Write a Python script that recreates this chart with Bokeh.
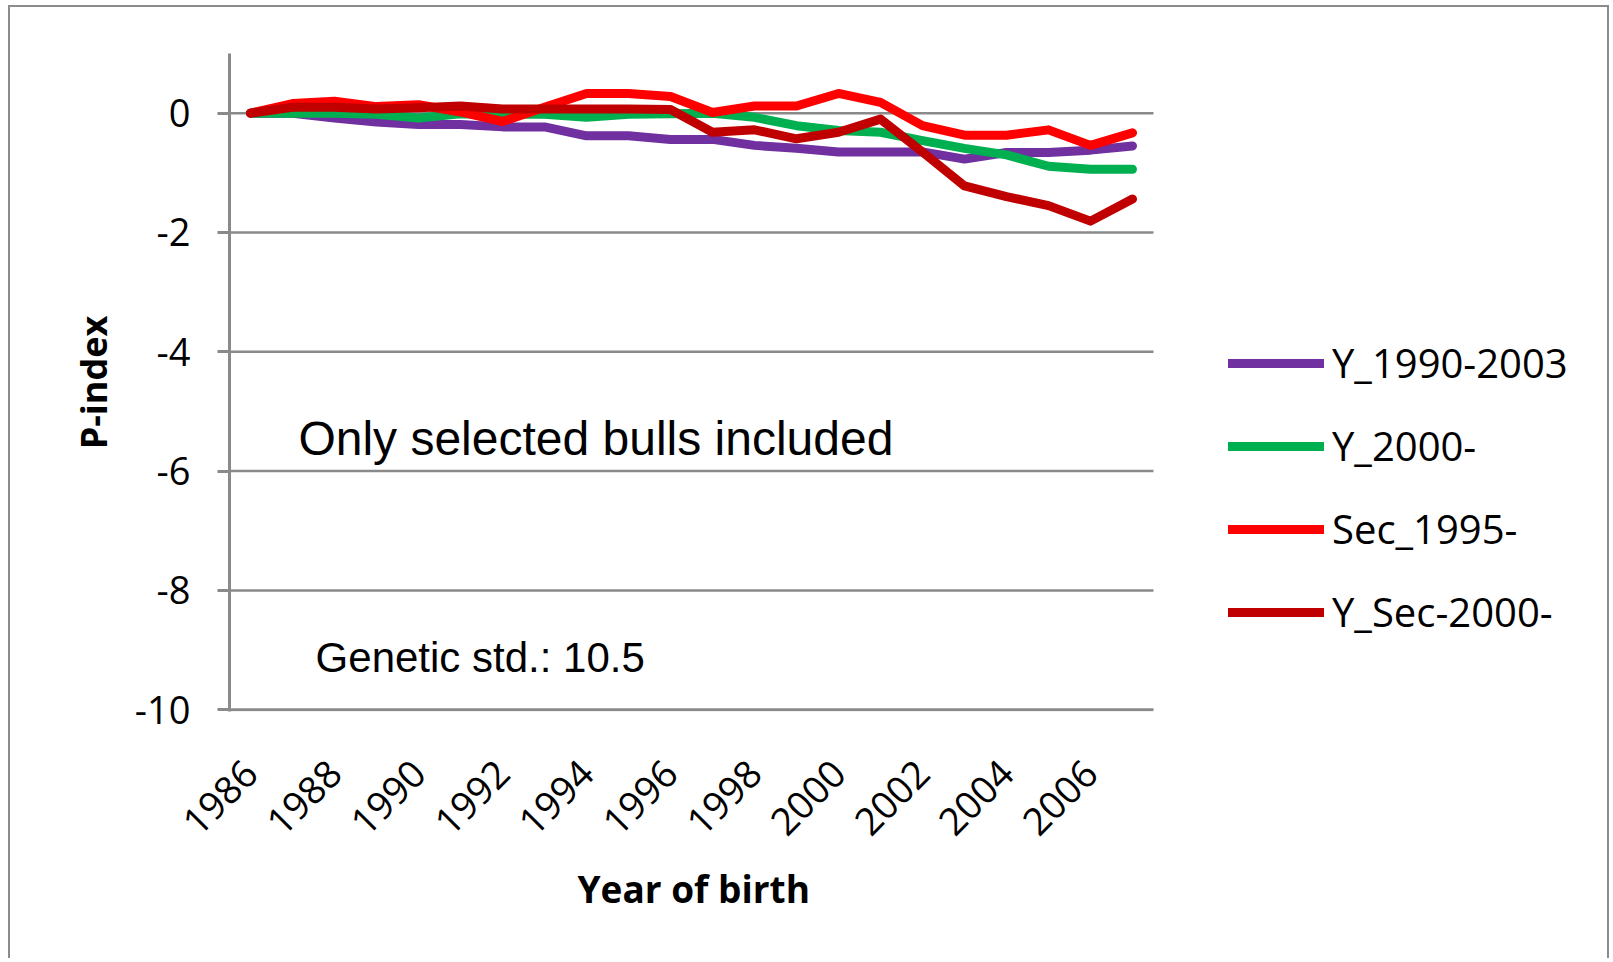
import math
from bokeh.plotting import figure
from bokeh.models import FixedTicker, Legend, LegendItem, Label, Range1d, Title
from bokeh.embed import file_html
from bokeh.resources import INLINE

years = list(range(1986, 2008))
y_1990_2003 = [0.00, 0.00, -0.08, -0.15, -0.19, -0.19, -0.23, -0.23, -0.38, -0.38, -0.44,
               -0.44, -0.54, -0.59, -0.65, -0.65, -0.65, -0.77, -0.66, -0.66, -0.62, -0.55]
y_2000 = [0.00, 0.00, 0.00, -0.02, -0.08, -0.01, -0.02, -0.02, -0.07, -0.02, -0.01,
          0.00, -0.07, -0.21, -0.29, -0.32, -0.46, -0.59, -0.70, -0.89, -0.94, -0.94]
sec_1995 = [0.00, 0.16, 0.20, 0.11, 0.14, 0.02, -0.14, 0.10, 0.33, 0.33, 0.28,
            0.01, 0.12, 0.12, 0.33, 0.18, -0.21, -0.37, -0.37, -0.28, -0.54, -0.33]
y_sec_2000 = [0.00, 0.10, 0.10, 0.07, 0.09, 0.12, 0.07, 0.07, 0.07, 0.07, 0.06,
              -0.32, -0.28, -0.43, -0.32, -0.10, -0.65, -1.22, -1.40, -1.55, -1.81, -1.44]

series_names = ["Y_1990-2003", "Y_2000-", "Sec_1995-", "Y_Sec-2000-"]
series_values = [y_1990_2003, y_2000, sec_1995, y_sec_2000]
series_colors = ["#7030A0", "#00B050", "#FF0000", "#C00000"]

x_tick_years = list(range(1986, 2007, 2))
x_tick_labels = [str(v) for v in x_tick_years]
y_ticks = [-10, -8, -6, -4, -2, 0]
y_tick_labels = ["-10", "-8", "-6", "-4", "-2", "0"]
grid_ticks = [-8, -6, -4, -2, 0]

GRAY = "#8a8a8a"
FONT = "Open Sans"

# plot area spans the years; frame extended to the right to host the legend
x_lo = years[0] - 0.5
x_hi = years[-1] + 0.5
PX_PER_YEAR = 42
FRAME_W = 1365
y_lo, y_hi = -10, 1

p = figure(frame_width=FRAME_W, frame_height=658,
           x_range=Range1d(x_lo, x_lo + FRAME_W / PX_PER_YEAR),
           y_range=Range1d(y_lo - 0.03, y_hi),
           output_backend="svg", toolbar_location=None,
           min_border_left=219, min_border_right=13,
           min_border_top=46, min_border_bottom=247)
p.styles = {"border": "2px solid #8c8c8c", "border-bottom": "none",
            "margin-left": "8px", "margin-top": "5px"}
p.outline_line_color = None
p.background_fill_color = "white"
p.border_fill_color = "white"

p.xgrid.visible = False
p.ygrid.visible = False
# horizontal gridlines limited to the plot area
p.segment(x0=[x_lo] * len(grid_ticks), x1=[x_hi] * len(grid_ticks),
          y0=grid_ticks, y1=grid_ticks, line_color=GRAY, line_width=2.5)
# x axis line
p.segment(x0=[x_lo], x1=[x_hi], y0=[y_lo], y1=[y_lo],
          line_color=GRAY, line_width=3)

renderers = []
for name, vals, col in zip(series_names, series_values, series_colors):
    r = p.line(years, vals, line_color=col, line_width=9,
               line_cap="round", line_join="round")
    renderers.append((name, r))

# y axis
ya = p.yaxis[0]
ya.ticker = FixedTicker(ticks=y_ticks)
ya.major_label_overrides = dict(zip(y_ticks, y_tick_labels))
ya.axis_line_color = GRAY
ya.axis_line_width = 3
ya.major_tick_line_color = GRAY
ya.major_tick_line_width = 3
ya.major_tick_in = 0
ya.major_tick_out = 12
ya.minor_tick_line_color = None
ya.major_label_standoff = 27
ya.major_label_text_font = FONT
ya.major_label_text_font_size = "38px"
ya.major_label_text_color = "black"
ya.axis_label = "P-index"
ya.axis_label_text_font = FONT
ya.axis_label_text_font_style = "bold"
ya.axis_label_text_font_size = "36px"
ya.axis_label_text_color = "black"
ya.axis_label_standoff = 14

# x axis
xa = p.xaxis[0]
xa.ticker = FixedTicker(ticks=x_tick_years)
xa.major_label_overrides = dict(zip(x_tick_years, x_tick_labels))
xa.axis_line_color = None
xa.major_tick_line_color = None
xa.major_tick_in = 0
xa.major_tick_out = 0
xa.minor_tick_line_color = None
xa.major_label_orientation = math.pi / 4
xa.major_label_standoff = 55
xa.major_label_text_font = FONT
xa.major_label_text_font_size = "38px"
xa.major_label_text_color = "black"

# x axis title, centred under the plot area (not under the legend area)
p.add_layout(Title(text="Year of birth", align="left", offset=348, standoff=20,
                   text_font=FONT, text_font_style="bold",
                   text_font_size="37px", text_color="black"), "below")

legend = Legend(items=[LegendItem(label=n, renderers=[r]) for n, r in renderers],
                location=(999, 72), orientation="vertical",
                glyph_width=96, glyph_height=48, label_height=48,
                spacing=28, label_standoff=8, padding=0, margin=0,
                border_line_color=None, background_fill_alpha=0,
                label_text_font=FONT, label_text_font_size="40px",
                label_text_color="black")
p.add_layout(legend, "center")

p.add_layout(Label(x=1987.14, y=-5.46, text="Only selected bulls included",
                   text_font="Liberation Sans", text_font_size="48px",
                   text_baseline="alphabetic", text_color="black"))
p.add_layout(Label(x=1987.55, y=-9.12, text="Genetic std.: 10.5",
                   text_font="Liberation Sans", text_font_size="42px",
                   text_baseline="alphabetic", text_color="black"))

open("out.html", "w").write(file_html(p, INLINE))
